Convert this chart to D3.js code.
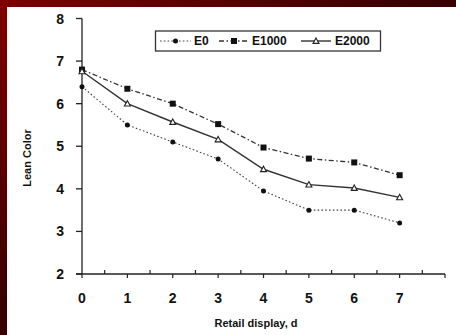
<!DOCTYPE html>
<html>
<head>
<meta charset="utf-8">
<script src="https://cdn.jsdelivr.net/npm/d3@7"></script>
<style>
    html, body { margin: 0; padding: 0; }
    body { width: 456px; height: 335px; overflow: hidden; }
    text { font-family: "Liberation Sans", Arial, sans-serif; font-weight: bold; fill: #111; }
</style>
</head>
<body>
<div id="chart"></div>
<script>
// 資料
var days = [0, 1, 2, 3, 4, 5, 6, 7];
var seriesNames = ["E0", "E1000", "E2000"];
var valuesE0 = [6.4, 5.5, 5.1, 4.7, 3.95, 3.5, 3.5, 3.2];
var valuesE1000 = [6.8, 6.35, 6.0, 5.52, 4.97, 4.71, 4.62, 4.32];
var valuesE2000 = [6.76, 6.0, 5.57, 5.16, 4.46, 4.1, 4.02, 3.8];
var yTicks = [2, 3, 4, 5, 6, 7, 8];
var xTicks = [0, 1, 2, 3, 4, 5, 6, 7];

var W = 456, H = 335;
var svg = d3.select("#chart").append("svg").attr("width", W).attr("height", H);

// 背景漸層外框
var defs = svg.append("defs");
var grad = defs.append("linearGradient").attr("id", "frame")
    .attr("x1", "0").attr("y1", "0").attr("x2", "1").attr("y2", "1");
grad.append("stop").attr("offset", "0").attr("stop-color", "#7e0000");
grad.append("stop").attr("offset", "0.45").attr("stop-color", "#3a0000");
grad.append("stop").attr("offset", "1").attr("stop-color", "#140000");
svg.append("rect").attr("width", W).attr("height", H).attr("fill", "url(#frame)");
svg.append("rect").attr("x", 7).attr("y", 7).attr("width", W - 7).attr("height", H - 7).attr("fill", "#fff");

// 比例尺
var x = d3.scaleLinear().domain([0, 8]).range([82, 445]);
var y = d3.scaleLinear().domain([2, 8]).range([274, 18.5]);

var g = svg.append("g");

// y 軸
g.append("line").attr("x1", x(0)).attr("x2", x(0)).attr("y1", y(2)).attr("y2", y(8))
    .attr("stroke", "#222").attr("stroke-width", 1.3);
yTicks.forEach(function(t) {
    g.append("line").attr("x1", x(0) - 6).attr("x2", x(0)).attr("y1", y(t)).attr("y2", y(t))
        .attr("stroke", "#222").attr("stroke-width", 1.3);
    g.append("text").attr("x", x(0) - 18).attr("y", y(t)).attr("dy", "0.36em")
        .attr("text-anchor", "end").attr("font-size", 14).text(t);
});

// x 軸
g.append("line").attr("x1", x(0) - 6).attr("x2", x(8)).attr("y1", y(2)).attr("y2", y(2))
    .attr("stroke", "#222").attr("stroke-width", 1.3);
d3.range(0, 8.01, 0.5).forEach(function(t) {
    var major = (t % 1 === 0);
    g.append("line").attr("x1", x(t)).attr("x2", x(t))
        .attr("y1", major ? y(2) : y(2) - 4).attr("y2", major ? y(2) + 4 : y(2))
        .attr("stroke", "#222").attr("stroke-width", 1.2);
});
xTicks.forEach(function(t) {
    g.append("text").attr("x", x(t)).attr("y", 298).attr("dy", "0.36em")
        .attr("text-anchor", "middle").attr("font-size", 14).text(t);
});

// 軸標題
g.append("text").attr("x", 256).attr("y", 323).attr("dy", "0.36em")
    .attr("text-anchor", "middle").attr("font-size", 11).text("Retail display, d");
g.append("text").attr("transform", "translate(27,158) rotate(-90)").attr("dy", "0.36em")
    .attr("text-anchor", "middle").attr("font-size", 11).text("Lean Color");

// 線條樣式
var styles = {
    "E0": { data: valuesE0, dash: "1.6,2.2", width: 1.1, color: "#444" },
    "E1000": { data: valuesE1000, dash: "5,2.5,1.5,2.5", width: 1.3, color: "#333" },
    "E2000": { data: valuesE2000, dash: null, width: 1.4, color: "#333" }
};

var line = d3.line().x(function(d, i) { return x(days[i]); }).y(function(d) { return y(d); });

function drawMarker(sel, name, cx, cy) {
    if (name === "E0") {
        sel.append("circle").attr("cx", cx).attr("cy", cy).attr("r", 2.5).attr("fill", "#111");
    } else if (name === "E1000") {
        sel.append("rect").attr("x", cx - 3).attr("y", cy - 3).attr("width", 6).attr("height", 6).attr("fill", "#111");
    } else {
        var s = 3;
        sel.append("path")
            .attr("d", "M" + cx + "," + (cy - s) + "L" + (cx + s) + "," + (cy + s * 0.8) + "L" + (cx - s) + "," + (cy + s * 0.8) + "Z")
            .attr("fill", "#fff").attr("stroke", "#222").attr("stroke-width", 1.1);
    }
}

seriesNames.forEach(function(name) {
    var st = styles[name];
    g.append("path").datum(st.data).attr("d", line)
        .attr("fill", "none").attr("stroke", st.color).attr("stroke-width", st.width)
        .attr("stroke-dasharray", st.dash);
    st.data.forEach(function(v, i) {
        drawMarker(g, name, x(days[i]), y(v));
    });
});

// 圖例
var legend = g.append("g");
legend.append("rect").attr("x", 155.5).attr("y", 31).attr("width", 225).attr("height", 20)
    .attr("fill", "#fff").attr("stroke", "#333").attr("stroke-width", 1.3);
var legendPos = [{ x1: 160, x2: 191, tx: 194 }, { x1: 219, x2: 249, tx: 252 }, { x1: 301, x2: 331, tx: 335 }];
seriesNames.forEach(function(name, i) {
    var st = styles[name];
    var p = legendPos[i];
    legend.append("line").attr("x1", p.x1).attr("x2", p.x2).attr("y1", 41).attr("y2", 41)
        .attr("stroke", st.color).attr("stroke-width", st.width).attr("stroke-dasharray", st.dash);
    drawMarker(legend, name, (p.x1 + p.x2) / 2, 41);
    legend.append("text").attr("x", p.tx).attr("y", 41).attr("dy", "0.36em")
        .attr("font-size", 12).text(name);
});
</script>
</body>
</html>
